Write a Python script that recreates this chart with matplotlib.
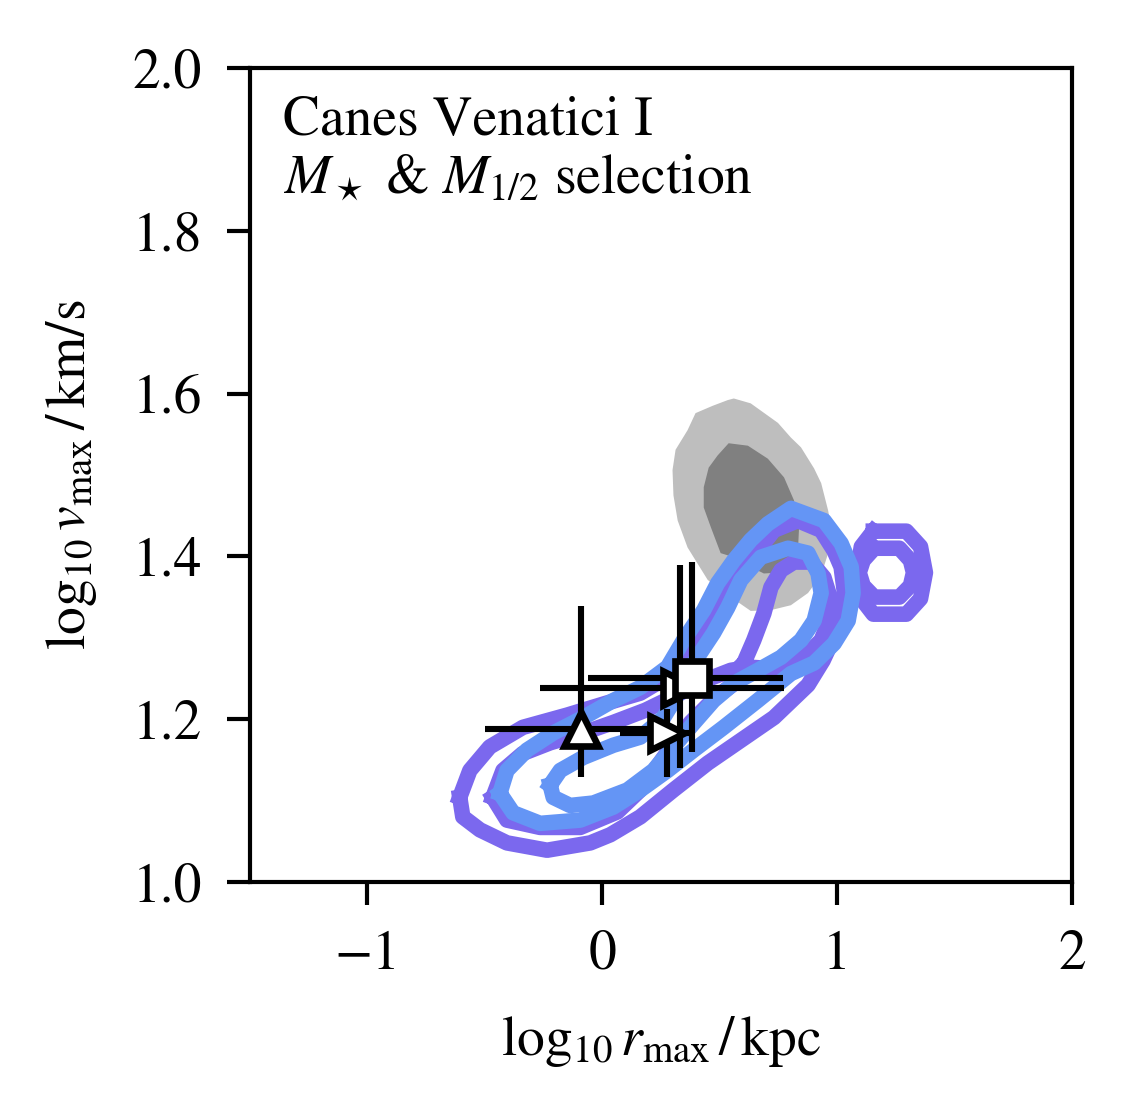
import numpy as np
import matplotlib
matplotlib.use('Agg')
import matplotlib.pyplot as plt

plt.rcParams['font.family'] = ['STIXGeneral', 'DejaVu Serif']
plt.rcParams['mathtext.fontset'] = 'stix'
plt.rcParams['font.size'] = 10

# ---- data (log10 rmax, log10 vmax) ----
# grey filled regions (outer / inner)
grey_out_x = [0.560, 0.632, 0.748, 0.803, 0.846, 0.902, 0.932, 0.962, 0.974, 0.962, 0.932, 0.876, 0.803, 0.718,
              0.632, 0.547, 0.449, 0.406, 0.363, 0.321, 0.303, 0.299, 0.312, 0.363, 0.397, 0.470, 0.534]
grey_out_y = [1.594, 1.588, 1.564, 1.546, 1.534, 1.508, 1.490, 1.456, 1.436, 1.404, 1.377, 1.355, 1.340, 1.334,
              1.333, 1.350, 1.371, 1.391, 1.411, 1.444, 1.475, 1.506, 1.531, 1.555, 1.576, 1.585, 1.592]
grey_in_x = [0.538, 0.620, 0.705, 0.774, 0.816, 0.838, 0.833, 0.803, 0.748, 0.688, 0.632, 0.560, 0.504, 0.462,
             0.432, 0.432, 0.453, 0.491]
grey_in_y = [1.539, 1.536, 1.520, 1.497, 1.469, 1.436, 1.407, 1.387, 1.380, 1.379, 1.387, 1.399, 1.404, 1.436,
             1.460, 1.485, 1.509, 1.524]

# purple contours
purp_out_x = [-0.607, -0.564, -0.479, -0.338, -0.150, 0.021, 0.162, 0.278, 0.376, 0.449, 0.517, 0.590, 0.662,
              0.731, 0.833, 0.932, 0.987, 1.017, 1.030, 1.017, 0.987, 0.940, 0.876, 0.731, 0.590, 0.449, 0.303,
              0.162, 0.034, -0.051, -0.235, -0.406, -0.521, -0.594]
purp_out_y = [1.104, 1.137, 1.166, 1.190, 1.205, 1.220, 1.232, 1.252, 1.285, 1.315, 1.346, 1.377, 1.407, 1.432,
              1.444, 1.432, 1.407, 1.387, 1.358, 1.330, 1.301, 1.272, 1.242, 1.202, 1.174, 1.146, 1.113, 1.080,
              1.058, 1.048, 1.039, 1.048, 1.064, 1.080]
purp_in_x = [-0.466, -0.423, -0.338, -0.222, -0.081, 0.047, 0.184, 0.312, 0.440, 0.547, 0.611, 0.581, 0.483,
             0.376, 0.269, 0.162, 0.064, -0.094, -0.265, -0.406]
purp_in_y = [1.104, 1.137, 1.158, 1.171, 1.183, 1.196, 1.211, 1.229, 1.248, 1.260, 1.263, 1.248, 1.227,
             1.196, 1.156, 1.113, 1.086, 1.067, 1.067, 1.076]
purp_hook_x = [0.603, 0.645, 0.688, 0.718, 0.761, 0.816, 0.889, 0.944, 0.974, 0.966, 0.932, 0.859, 0.774, 0.675, 0.620]
purp_hook_y = [1.269, 1.297, 1.330, 1.362, 1.383, 1.393, 1.393, 1.374, 1.346, 1.321, 1.297, 1.276, 1.264, 1.263, 1.264]
purp_ring1_x = [1.154, 1.295, 1.355, 1.376, 1.355, 1.295, 1.154, 1.103, 1.085, 1.103]
purp_ring1_y = [1.431, 1.431, 1.412, 1.380, 1.348, 1.329, 1.329, 1.348, 1.380, 1.412]
purp_ring2_x = [1.158, 1.265, 1.312, 1.325, 1.312, 1.265, 1.158, 1.111, 1.094, 1.111]
purp_ring2_y = [1.410, 1.410, 1.395, 1.380, 1.364, 1.350, 1.350, 1.364, 1.380, 1.395]

# blue contours
blue_out_x = [-0.436, -0.406, -0.321, -0.209, -0.081, 0.047, 0.162, 0.278, 0.346, 0.432, 0.491, 0.560, 0.632,
              0.705, 0.803, 0.944, 1.017, 1.060, 1.068, 1.047, 0.987, 0.902, 0.803, 0.662, 0.517, 0.389, 0.278,
              0.162, 0.047, -0.094, -0.265, -0.380]
blue_out_y = [1.109, 1.137, 1.162, 1.183, 1.202, 1.223, 1.239, 1.264, 1.297, 1.334, 1.367, 1.395, 1.420, 1.440,
              1.459, 1.444, 1.416, 1.387, 1.355, 1.321, 1.293, 1.269, 1.256, 1.223, 1.190, 1.162, 1.137, 1.113,
              1.092, 1.076, 1.072, 1.085]
blue_in_x = [-0.222, -0.179, -0.081, 0.047, 0.162, 0.261, 0.333, 0.389, 0.474, 0.534, 0.590, 0.675, 0.791, 0.876,
             0.919, 0.932, 0.902, 0.846, 0.761, 0.662, 0.560, 0.474, 0.389, 0.303, 0.218, 0.107, -0.038, -0.137, -0.209]
blue_in_y = [1.119, 1.137, 1.153, 1.168, 1.178, 1.202, 1.236, 1.269, 1.306, 1.337, 1.371, 1.399, 1.410, 1.404,
             1.379, 1.355, 1.321, 1.297, 1.276, 1.260, 1.244, 1.223, 1.195, 1.166, 1.137, 1.113, 1.097, 1.094, 1.104]

# observational estimates: marker, x, y, x err (lo, hi), y err (lo, hi)
obs_marker = ['^', '>', '>', 's']
obs_x = [-0.090, 0.274, 0.333, 0.380]
obs_y = [1.188, 1.183, 1.238, 1.250]
obs_xlo = [0.41, 0.20, 0.60, 0.44]
obs_xhi = [0.30, 0.11, 0.44, 0.39]
obs_ylo = [0.059, 0.054, 0.098, 0.090]
obs_yhi = [0.151, 0.030, 0.151, 0.143]


def closed(xs, ys):
    return list(xs) + [xs[0]], list(ys) + [ys[0]]


fig = plt.figure(figsize=(1134 / 400, 1115 / 400), dpi=400)
ax = fig.add_axes([0.2205, 0.209, 0.7248, 0.730])

# grey filled regions
ax.fill(grey_out_x, grey_out_y, color='#bebebe', lw=0, zorder=1)
ax.fill(grey_in_x, grey_in_y, color='#808080', lw=0, zorder=1.1)

# purple contours
purple = '#7b68ee'
for xs, ys in [(purp_out_x, purp_out_y), (purp_in_x, purp_in_y), (purp_hook_x, purp_hook_y),
               (purp_ring1_x, purp_ring1_y), (purp_ring2_x, purp_ring2_y)]:
    cx, cy = closed(xs, ys)
    ax.plot(cx, cy, color=purple, lw=2.8, solid_joinstyle='round', zorder=2)

# blue contours
blue = '#6495f5'
for xs, ys in [(blue_out_x, blue_out_y), (blue_in_x, blue_in_y)]:
    cx, cy = closed(xs, ys)
    ax.plot(cx, cy, color=blue, lw=2.8, solid_joinstyle='round', zorder=3)

# data points with error bars
for m, x, y, xl, xh, yl, yh in zip(obs_marker, obs_x, obs_y, obs_xlo, obs_xhi, obs_ylo, obs_yhi):
    ax.errorbar([x], [y], xerr=[[xl], [xh]], yerr=[[yl], [yh]], fmt=m, ms=6, mfc='white', mec='black',
                mew=1.2, ecolor='black', elinewidth=1.1, capsize=0, zorder=5)

ax.set_xlim(-1.5, 2)
ax.set_ylim(1.0, 2.0)
ax.set_xticks([-1, 0, 1, 2])
ax.set_yticks([1.0, 1.2, 1.4, 1.6, 1.8, 2.0])
ax.set_yticklabels(['1.0', '1.2', '1.4', '1.6', '1.8', '2.0'])
ax.tick_params(direction='out', length=4.1, width=0.75, pad=4.5, labelsize=10)
for s in ax.spines.values():
    s.set_linewidth(0.75)

ax.set_xlabel(r'$\log_{10}r_{\rm max}\,/\,{\rm kpc}$', fontsize=10, labelpad=6)
ax.set_ylabel(r'$\log_{10}v_{\rm max}\,/\,{\rm km/s}$', fontsize=10, labelpad=6)

ax.text(0.04, 0.918, 'Canes Venatici I', transform=ax.transAxes, ha='left', va='baseline', fontsize=10)
ax.text(0.04, 0.846, r'$M_\star$ & $M_{1/2}$ selection', transform=ax.transAxes,
        ha='left', va='baseline', fontsize=10)

fig.savefig('out.png', dpi=400)
